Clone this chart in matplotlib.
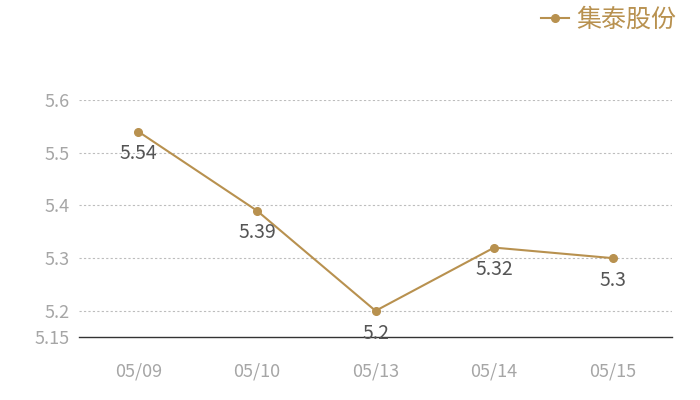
import matplotlib
matplotlib.use('Agg')
import matplotlib.pyplot as plt

plt.rcParams['font.family'] = ['Noto Sans CJK SC', 'DejaVu Sans']

# data
dates = ['05/09', '05/10', '05/13', '05/14', '05/15']
prices = [5.54, 5.39, 5.2, 5.32, 5.3]
series_name = '集泰股份'
yticks = [5.15, 5.2, 5.3, 5.4, 5.5, 5.6]
ytick_labels = ['5.15', '5.2', '5.3', '5.4', '5.5', '5.6']

color = '#b8914f'

fig = plt.figure(figsize=(7, 4), dpi=100)
ax = fig.add_axes([0.113, 0.157, 0.847, 0.593])

x = list(range(len(dates)))
ax.plot(x, prices, color=color, lw=1.5, marker='o', ms=5.5, label=series_name, clip_on=False)

for xi, v in zip(x, prices):
    ax.annotate(f'{v:g}', (xi, v), xytext=(0, -8.5), textcoords='offset points',
                ha='center', va='top', fontsize=14, color='#555555')

ax.set_xlim(-0.5, len(dates) - 0.5)
ax.set_ylim(5.15, 5.6)
ax.set_xticks(x)
ax.set_xticklabels(dates)
ax.set_yticks(yticks)
ax.set_yticklabels(ytick_labels)
ax.tick_params(axis='both', length=0, labelsize=13, colors='#a6a6a6')
ax.tick_params(axis='x', pad=18)
ax.tick_params(axis='y', pad=7)

for t in yticks[1:]:
    ax.axhline(t, color='#bdbdbd', lw=0.8, ls=(0, (2, 2)), zorder=0)

for s in ['top', 'right', 'left']:
    ax.spines[s].set_visible(False)
ax.spines['bottom'].set_color('#333333')
ax.spines['bottom'].set_linewidth(1)

leg = fig.legend(loc='upper right', bbox_to_anchor=(0.998, 1.04), frameon=False,
                 fontsize=18, handlelength=1.1, handletextpad=0.3)
for t in leg.get_texts():
    t.set_color(color)

fig.savefig('out.png', dpi=100)
